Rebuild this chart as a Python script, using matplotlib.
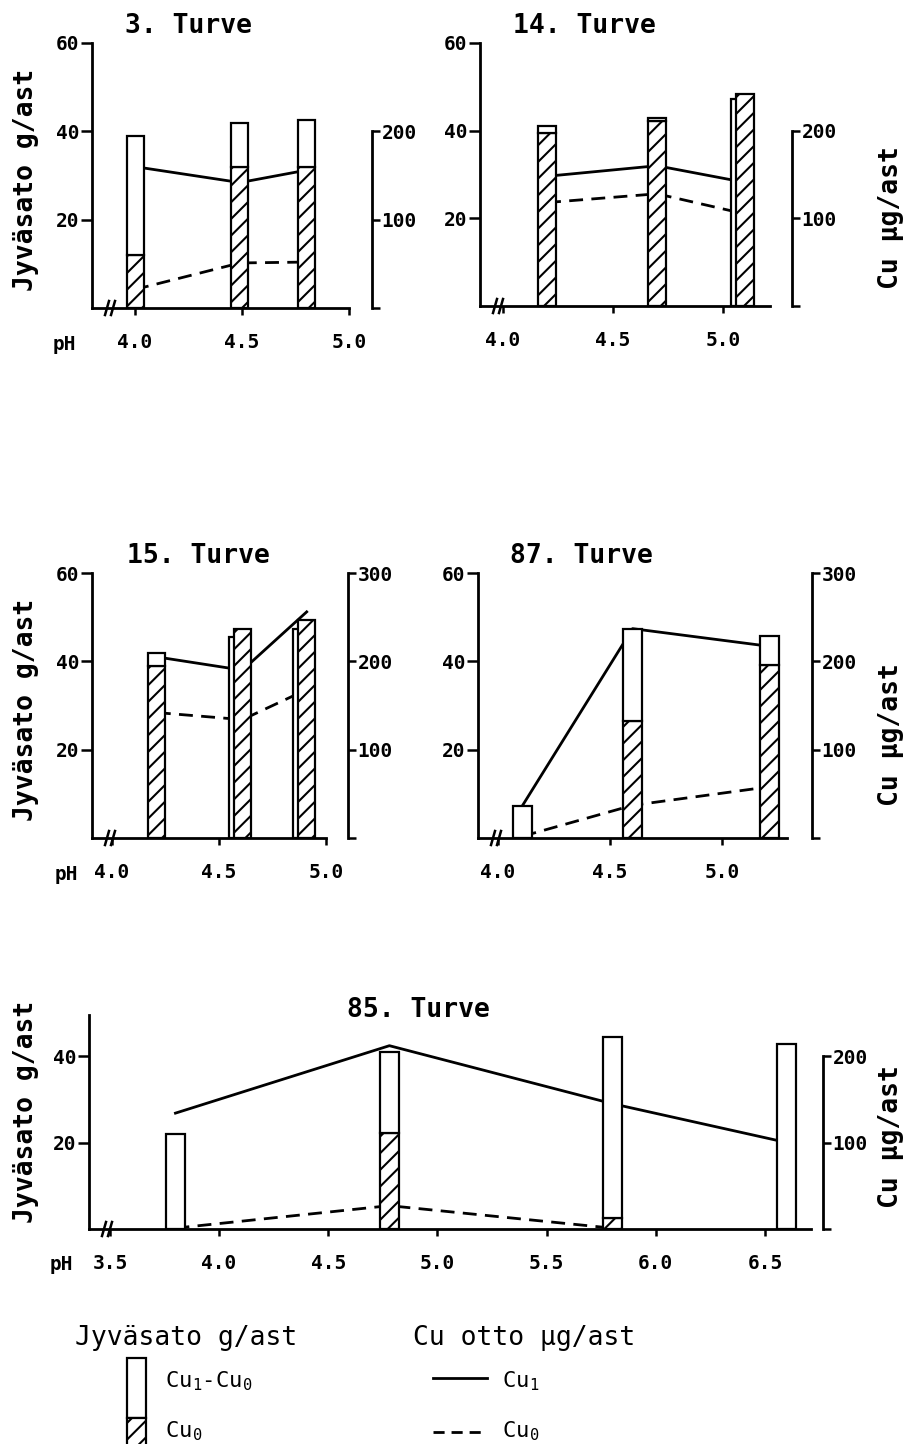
import numpy as np
import matplotlib
matplotlib.use("Agg")
import matplotlib.pyplot as plt
from matplotlib.patches import Rectangle

plt.rcParams['font.family'] = ['DejaVu Sans Mono', 'DejaVu Sans']
plt.rcParams['mathtext.default'] = 'regular'
plt.rcParams['hatch.linewidth'] = 1.5

# --- data ---
titles = ["3. Turve", "14. Turve", "15. Turve", "87. Turve", "85. Turve"]

# pH of each pot group
ph_3 = [4.00, 4.49, 4.80]
ph_14 = [4.20, 4.70, 5.10]
ph_15 = [4.21, 4.61, 4.91]
ph_87 = [4.11, 4.60, 5.21]
ph_85 = [3.80, 4.78, 5.80, 6.60]

# Jyväsato g/ast without Cu (Cu0) and with Cu (Cu1)
sato_cu0_3 = [12.0, 32.0, 32.0]
sato_cu1_3 = [39.0, 42.0, 42.5]
sato_cu0_14 = [39.5, 42.3, 48.4]
sato_cu1_14 = [41.0, 43.0, 47.2]
sato_cu0_15 = [39.0, 47.3, 49.3]
sato_cu1_15 = [42.0, 45.5, 47.3]
sato_cu0_87 = [0.0, 26.5, 39.1]
sato_cu1_87 = [7.2, 47.3, 45.7]
sato_cu0_85 = [0.0, 22.2, 2.5, 0.0]
sato_cu1_85 = [21.9, 40.9, 44.3, 42.7]

# Cu otto µg/ast
otto_cu1_3 = [160, 142, 156]
otto_cu0_3 = [21, 51, 52]
otto_cu1_14 = [148, 160, 141]
otto_cu0_14 = [118, 128, 105]
otto_cu1_15 = [205, 190, 256]
otto_cu0_15 = [142, 134, 168]
otto_cu1_87 = [37, 237, 217]
otto_cu0_87 = [2, 37, 58]
otto_cu1_85 = [134, 212, 145, 100]
otto_cu0_85 = [1, 27, 1, np.nan]

panels = [
    (ph_3, sato_cu0_3, sato_cu1_3, otto_cu1_3, otto_cu0_3),
    (ph_14, sato_cu0_14, sato_cu1_14, otto_cu1_14, otto_cu0_14),
    (ph_15, sato_cu0_15, sato_cu1_15, otto_cu1_15, otto_cu0_15),
    (ph_87, sato_cu0_87, sato_cu1_87, otto_cu1_87, otto_cu0_87),
    (ph_85, sato_cu0_85, sato_cu1_85, otto_cu1_85, otto_cu0_85),
]

# --- layout (pixels of the 921x1444 page) ---
W, H = 921, 1444
layout = [
    dict(l=92, r=372, b=308, t=43, x0=3.799, x1=5.107, xend=5.0, ytop=60, rtop=200, bw=17,
         xt=[4.0, 4.5, 5.0], yt=[20, 40, 60], tx=125, ty=33),
    dict(l=480, r=792, b=306, t=43, x0=3.895, x1=5.314, xend=5.214, ytop=60, rtop=200, bw=18,
         xt=[4.0, 4.5, 5.0], yt=[20, 40, 60], tx=513, ty=33),
    dict(l=92, r=348, b=838, t=573, x0=3.907, x1=5.103, xend=5.0, ytop=60, rtop=300, bw=17,
         xt=[4.0, 4.5, 5.0], yt=[20, 40, 60], tx=127, ty=563),
    dict(l=478, r=812, b=838, t=573, x0=3.911, x1=5.400, xend=5.29, ytop=60, rtop=300, bw=19,
         xt=[4.0, 4.5, 5.0], yt=[20, 40, 60], tx=510, ty=563),
    dict(l=89, r=823, b=1229, t=1015, x0=3.404, x1=6.766, xend=6.711, ytop=49.5, rtop=200, bw=19,
         xt=[3.5, 4.0, 4.5, 5.0, 5.5, 6.0, 6.5], yt=[20, 40], tx=347, ty=1017),
]

fig = plt.figure(figsize=(W / 100, H / 100), dpi=100)

for (ph, s0, s1, o1, o0), lay, title in zip(panels, layout, titles):
    rect = [lay['l'] / W, 1 - lay['b'] / H, (lay['r'] - lay['l']) / W, (lay['b'] - lay['t']) / H]
    ax = fig.add_axes(rect)
    ax2 = ax.twinx()
    ax.set_zorder(ax2.get_zorder() + 1)
    ax.patch.set_visible(False)

    pxph = (lay['r'] - lay['l']) / (lay['x1'] - lay['x0'])
    width = lay['bw'] / pxph
    x = np.array(ph)
    s0 = np.array(s0)
    s1 = np.array(s1)
    up = s1 >= s0

    # Cu otto lines (behind the bars)
    ax2.plot(x, o1, color='k', lw=2.0)
    ax2.plot(x, o0, color='k', lw=2.0, ls=(0, (5, 3)))

    # bars: open part behind when Cu1 < Cu0
    ax.bar(x[~up] - 0.3 * width, s1[~up], width, color='white', edgecolor='k', lw=1.6)
    ax.bar(x, s0, width, color='white', edgecolor='k', hatch='//', lw=1.6)
    ax.bar(x[up], (s1 - s0)[up], width, bottom=s0[up], color='white', edgecolor='k', lw=1.6)

    ax.set_xlim(lay['x0'], lay['x1'])
    ax.set_ylim(0, lay['ytop'])
    ax2.set_ylim(0, lay['ytop'] * 5)

    for s in ['top', 'right']:
        ax.spines[s].set_visible(False)
    for s in ['top', 'left', 'bottom']:
        ax2.spines[s].set_visible(False)
    ax.spines['left'].set_bounds(0, lay['ytop'])
    ax.spines['bottom'].set_bounds(lay['x0'], lay['xend'])
    ax2.spines['right'].set_bounds(0, lay['rtop'])
    for sp in [ax.spines['left'], ax.spines['bottom'], ax2.spines['right']]:
        sp.set_linewidth(2.0)

    ax.set_xticks(lay['xt'])
    ax.set_xticklabels(['%.1f' % v for v in lay['xt']], fontweight='bold')
    ax.set_yticks(lay['yt'])
    ax.set_yticklabels(['%d' % v for v in lay['yt']], fontweight='bold')
    rt = list(range(0, lay['rtop'] + 1, 100))
    ax2.set_yticks(rt)
    ax2.set_yticklabels([''] + ['%d' % v for v in rt[1:]], fontweight='bold')
    ax.tick_params(axis='x', direction='out', length=5, width=1.8, pad=13, labelsize=14)
    ax.tick_params(axis='y', direction='out', length=8, width=1.8, pad=1, labelsize=14)
    ax2.tick_params(axis='y', direction='out', length=6, width=1.8, pad=1, labelsize=14)

    # axis break marks
    h = 7 * lay['ytop'] / (lay['b'] - lay['t'])
    for off in (15, 21):
        xb = lay['x0'] + off / pxph
        ax.plot([xb - 2 / pxph, xb + 2 / pxph], [-h, h], color='k', lw=1.8, clip_on=False)

    fig.text(lay['tx'] / W, 1 - lay['ty'] / H, title, fontsize=19,
             fontweight='bold', va='baseline', ha='left')

# pH labels
for px, py in [(53, 345), (55, 874), (50, 1265)]:
    fig.text(px / W, 1 - py / H, 'pH', fontsize=14, fontweight='bold', va='center', ha='left')

# axis titles
for py in [180, 710, 1112]:
    fig.text(26 / W, 1 - py / H, 'Jyväsato g/ast', fontsize=19, fontweight='bold',
             rotation=90, va='center', ha='center')
for py in [218, 735, 1137]:
    fig.text(891 / W, 1 - py / H, 'Cu µg/ast', fontsize=19, fontweight='bold',
             rotation=90, va='center', ha='center')

# legend
lax = fig.add_axes([0, 0, 1, 154 / H])
lax.set_xlim(0, W)
lax.set_ylim(H, 1290)
lax.set_axis_off()
lax.text(75, 1345, 'Jyväsato g/ast', fontsize=19, va='baseline')
lax.text(413, 1345, 'Cu otto µg/ast', fontsize=19, va='baseline')
lax.add_patch(Rectangle((127, 1358), 19, 60, facecolor='white', edgecolor='k', lw=1.6))
lax.add_patch(Rectangle((127, 1418), 19, 40, facecolor='white', edgecolor='k', lw=1.6,
                        hatch='//', clip_on=True))
lax.text(165, 1387, r'Cu$_1$-Cu$_0$', fontsize=16, va='baseline')
lax.text(165, 1437, r'Cu$_0$', fontsize=16, va='baseline')
lax.plot([433, 487], [1378, 1378], color='k', lw=2.0)
lax.plot([433, 487], [1432, 1432], color='k', lw=2.0, ls=(0, (4, 2.5)))
lax.text(502, 1387, r'Cu$_1$', fontsize=16, va='baseline')
lax.text(502, 1437, r'Cu$_0$', fontsize=16, va='baseline')

fig.savefig('out.png', dpi=100)
